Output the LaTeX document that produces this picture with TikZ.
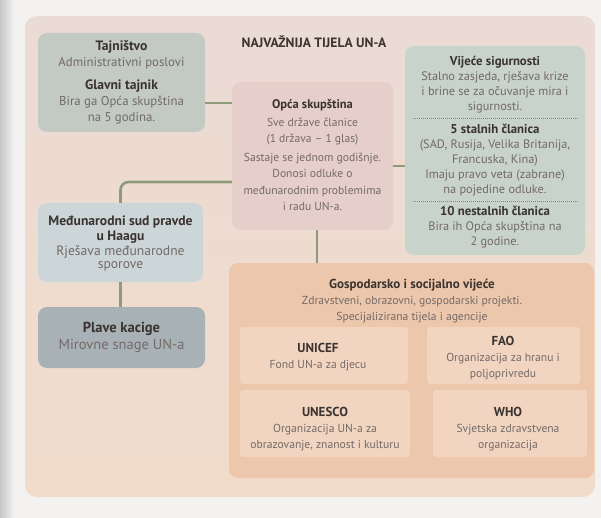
\documentclass[tikz,border=0pt]{standalone}
\usepackage{fontspec}
\setmainfont{PT Sans}
\definecolor{pagebg}{HTML}{F3F2F0}
\definecolor{paneltop}{HTML}{EBDBD5}
\definecolor{panelbot}{HTML}{F1DCCB}
\definecolor{tajfill}{HTML}{C2CAC3}
\definecolor{opcafill}{HTML}{E6CFCB}
\definecolor{vijfill}{HTML}{C8D3CB}
\definecolor{mspfill}{HTML}{CCD5D8}
\definecolor{plavefill}{HTML}{A8B2B6}
\definecolor{gsvfill}{HTML}{EDC7AB}
\definecolor{agfill}{HTML}{F1D5C1}
\definecolor{conncol}{HTML}{8D9B79}
\definecolor{headcol}{HTML}{3A3330}
\definecolor{bodycol}{HTML}{736A67}
\newcommand{\Hd}[1]{{\bfseries\color{headcol}#1}}
\newcommand{\Hs}[2]{{\bfseries\color{headcol}\fontsize{#1}{#1}\selectfont#2}}
\newcommand{\Bd}[1]{{\color{bodycol}#1}}
\begin{document}
\begin{tikzpicture}[x=1pt,y=-1pt,
  box/.style={rounded corners=9pt, inner sep=0pt},
  agbox/.style={rounded corners=3pt, fill=agfill, inner sep=0pt},
  txt/.style={inner sep=0pt, align=center},
  conn/.style={draw=conncol, line width=2.6pt},
  vijfont/.style={font=\fontsize{12.3}{15}\selectfont},
  agfont/.style={font=\fontsize{11.6}{16}\selectfont},
  lfont/.style={font=\fontsize{13.6}{14.8}\selectfont}]
\useasboundingbox (0,0) rectangle (601,518);
\fill[pagebg] (0,0) rectangle (601,518);
\shade[left color=gray!45, right color=pagebg] (0,0) rectangle (14,518);
% panel
\shade[rounded corners=12pt, top color=paneltop, bottom color=panelbot] (25,16) rectangle (595,497);
% title
\node[txt, font=\bfseries\fontsize{13.5}{15}\selectfont, text=headcol] (title) at (314,42) {NAJVAŽNIJA TIJELA UN-A};
% boxes
\node[box, fill=tajfill, minimum width=167pt, minimum height=99pt] (taj) at (121.5,82.5) {};
\node[txt, font=\fontsize{12.8}{16}\selectfont] (tajT) at (taj.center)
  {\Hs{13.6}{Tajništvo}\\ \Bd{Administrativni poslovi}\\[7pt] \Hs{13.6}{Glavni tajnik}\\ \Bd{Bira ga Opća skupština}\\ \Bd{na 5 godina.}};
\node[box, fill=opcafill, minimum width=161pt, minimum height=148pt] (opca) at (312.5,156) {};
\node[txt, font=\fontsize{11.6}{16.5}\selectfont] (opcaT) at (312.5,155)
  {\Hs{12.5}{Opća skupština}\\[1pt] \Bd{Sve države članice}\\ \Bd{(1 država – 1 glas)}\\[2pt] \Bd{Sastaje se jednom godišnje.}\\ \Bd{Donosi odluke o}\\ \Bd{međunarodnim problemima}\\ \Bd{i radu UN-a.}};
\node[box, fill=vijfill, minimum width=180pt, minimum height=209pt] (vij) at (495,150.5) {};
\node[txt, vijfont] (vij1) at (495,84.5) {\Hs{12.8}{Vijeće sigurnosti}\\ \Bd{Stalno zasjeda, rješava krize}\\ \Bd{i brine se za očuvanje mira i}\\ \Bd{sigurnosti.}};
\node[txt, vijfont] (vij2) at (495,160) {\Hs{12.8}{5 stalnih članica}\\ \Bd{(SAD, Rusija, Velika Britanija,}\\ \Bd{Francuska, Kina)}\\ \Bd{Imaju pravo veta (zabrane)}\\ \Bd{na pojedine odluke.}};
\node[txt, vijfont] (vij3) at (495,227) {\Hs{12.8}{10 nestalnih članica}\\ \Bd{Bira ih Opća skupština na}\\ \Bd{2 godine.}};
\draw[headcol!60, dash pattern=on 1pt off 1pt, line width=0.6pt] (vij.west |- 0,118) ++(8,0) -- ([xshift=-8pt]vij.east |- 0,118);
\draw[headcol!60, dash pattern=on 1pt off 1pt, line width=0.6pt] (vij.west |- 0,201) ++(8,0) -- ([xshift=-8pt]vij.east |- 0,201);
\node[box, fill=mspfill, minimum width=165pt, minimum height=79pt] (msp) at (120.5,242.5) {};
\node[txt, lfont] (mspH1) at (120.5,222) {\Hd{Međunarodni sud pravde}};
\node[txt, lfont] (mspH2) at (120.5,237) {\Hd{u Haagu}};
\node[txt, lfont] (mspB1) at (120.5,252) {\Bd{Rješava međunarodne}};
\node[txt, lfont] (mspB2) at (120.5,266) {\Bd{sporove}};
\node[box, fill=plavefill, minimum width=167pt, minimum height=61pt] (plave) at (121.5,337.5) {};
\node[txt, font=\fontsize{14.5}{16.5}\selectfont] (plaveT) at (plave.center)
  {\Hd{Plave kacige}\\ \Bd{Mirovne snage UN-a}};
\node[box, fill=gsvfill, minimum width=365pt, minimum height=215pt] (gsv) at (411.5,370.5) {};
\node[txt, agfont] (gsvt) at (412,301) {\Hs{13}{Gospodarsko i socijalno vijeće}\\ \Bd{Zdravstveni, obrazovni, gospodarski projekti.}\\ \Bd{Specijalizirana tijela i agencije}};
\node[agbox, minimum width=168pt, minimum height=57pt] (unicef) at (324,355.5) {};
\node[agbox, minimum width=153pt, minimum height=57pt] (fao) at (503.5,355.5) {};
\node[agbox, minimum width=170pt, minimum height=67pt] (unesco) at (325,423.5) {};
\node[agbox, minimum width=154pt, minimum height=67pt] (who) at (510,423.5) {};
\node[txt, agfont] (unicefT) at (318,357) {\Hs{13}{UNICEF}\\ \Bd{Fond UN-a za djecu}};
\node[txt, agfont] (faoT) at (503,358) {\Hs{13}{FAO}\\ \Bd{Organizacija za hranu i}\\ \Bd{poljoprivredu}};
\node[txt, agfont] (unescoT) at (325,429) {\Hs{13}{UNESCO}\\ \Bd{Organizacija UN-a za}\\ \Bd{obrazovanje, znanost i kulturu}};
\node[txt, agfont] (whoT) at (508,429) {\Hs{13}{WHO}\\ \Bd{Svjetska zdravstvena}\\ \Bd{organizacija}};
% connectors
\draw[conn] (taj.east |- 0,103) -- (opca.west |- 0,103);
\draw[conn] (opca.east |- 0,166) -- (vij.west |- 0,166);
\draw[conn, rounded corners=8pt] (opca.west |- 0,182) -| (msp.north);
\draw[conn] (msp.south) -- (msp.south |- plave.north);
\draw[conn] (opca.south -| 317,0) -- (gsv.north -| 317,0);
\end{tikzpicture}
\end{document}
